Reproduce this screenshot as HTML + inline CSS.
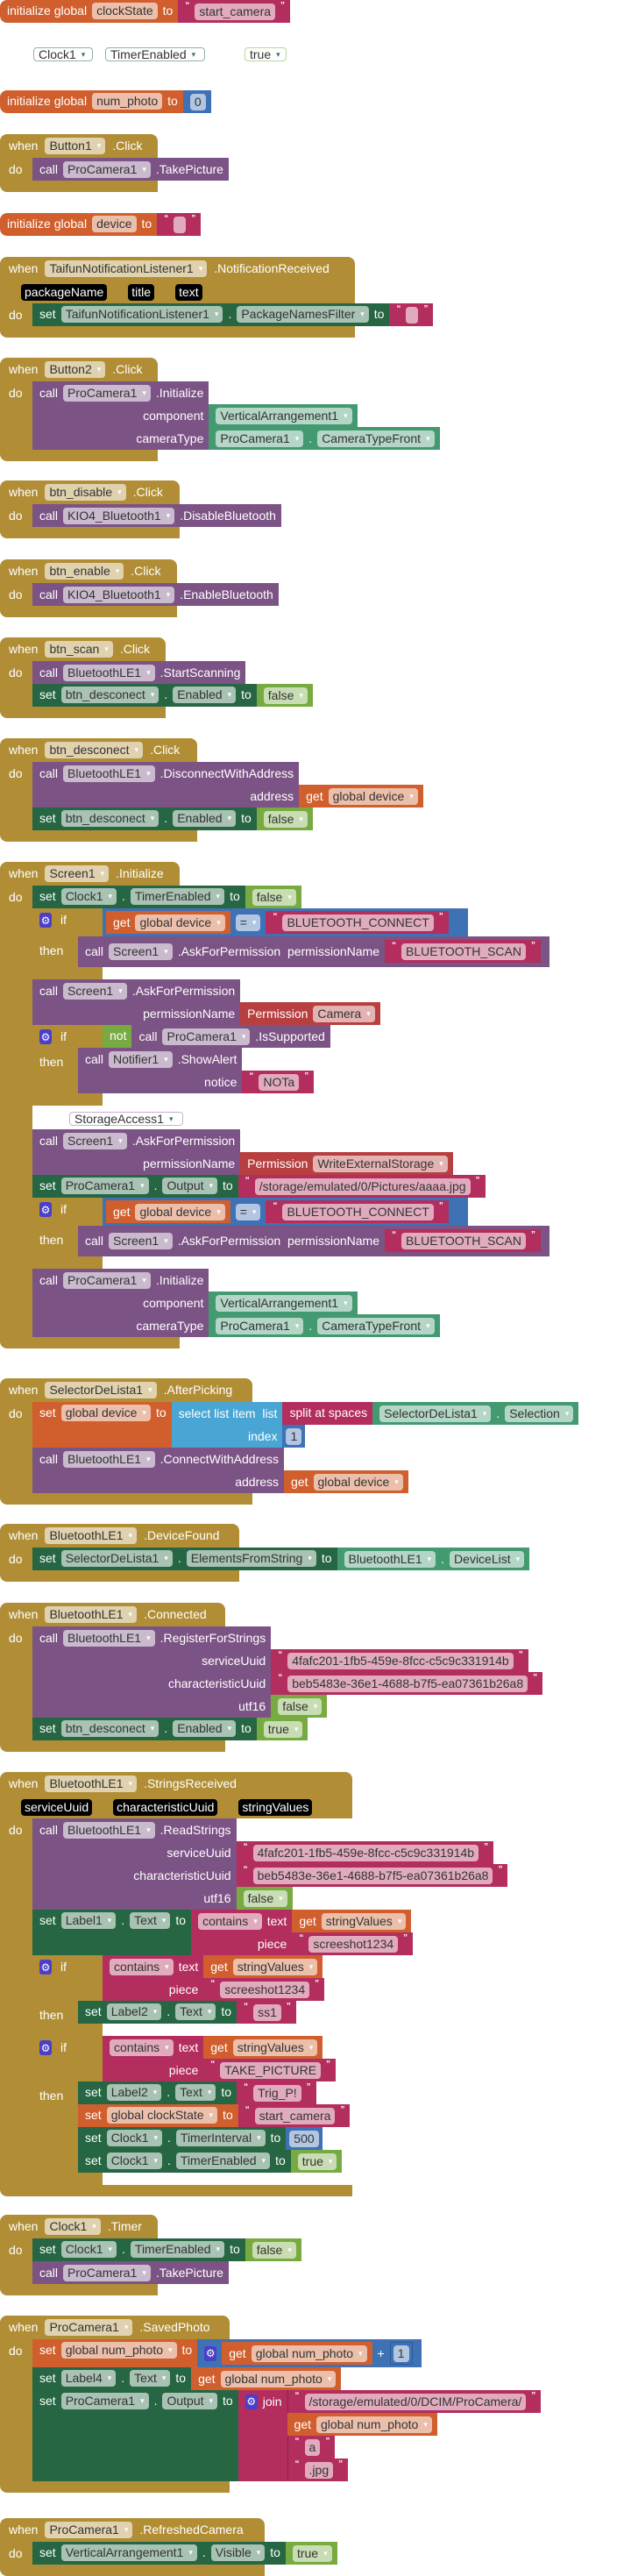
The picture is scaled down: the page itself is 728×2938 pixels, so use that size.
<!DOCTYPE html>
<html><head><meta charset="utf-8">
<style>
body{margin:0;width:728px;height:2937px;position:relative;background:#fff;font:14px "Liberation Sans",Arial,sans-serif;color:#fff;overflow:hidden}
.ab{position:absolute;left:0}
.r{display:flex;align-items:center;min-height:26px;line-height:19px;white-space:nowrap;padding:0 6px 0 8px;gap:6px;box-sizing:border-box}
.p{padding:3px 4px;gap:6px}
.s{display:flex;align-items:flex-start;white-space:nowrap}
.h{align-self:stretch;align-items:flex-start;padding-top:3px}
.e{justify-content:flex-end}
i{font-style:normal}
.d,.n{display:inline-flex;align-items:center;height:19px;padding:0 5px;border-radius:4px;background:rgba(255,255,255,.6);color:#333}
.d::after{content:"▾";font-size:9px;margin-left:6px;color:rgba(255,255,255,.95)}
.q{font-size:10px;align-self:flex-start;margin-top:0;line-height:14px}
.gd{background:#B18E35}.pu{background:#7C5385}.dg{background:#266643}.cg{background:#439970}
.lg{background:#77AB41}.tx{background:#B32D5E}.or{background:#D05F2D}.bl{background:#3F71B5}
.lb{background:#49A6D4}.pm{background:#B83F3F}
.hd{height:27px;border-radius:8px 8px 0 0;padding-left:10px;gap:8px}
.bd{display:flex;align-items:stretch}
.do{width:37px;flex:none;background:#B18E35;padding:4px 0 0 10px;box-sizing:border-box;line-height:18px}
.st{display:flex;flex-direction:column;align-items:flex-start}
.ft{height:13px;background:#B18E35;border-radius:0 0 0 8px}
.g{display:grid;grid-template-columns:auto auto;align-items:stretch}
.g>.v2{justify-self:start}
.ifb{display:flex;flex-direction:column;align-items:flex-start}
.ifr{display:flex;align-items:flex-start}
.ifh{width:80px;flex:none;background:#B18E35;display:flex;align-items:flex-start;padding:5px 0 0 8px;box-sizing:border-box;gap:10px;align-self:stretch}
.thn{width:52px;flex:none;background:#B18E35;padding:8px 0 0 8px;box-sizing:border-box;align-self:stretch}
.ifbot{width:80px;height:14px;background:#B18E35}
.gear{display:inline-flex;width:14px;height:17px;background:#4B3FC9;border-radius:3px;color:#fff;font-size:12px;align-items:center;justify-content:center}
.pk{background:#000;color:#fff;border-radius:4px;padding:0 4px;height:19px;display:inline-flex;align-items:center}
.o{position:absolute;display:inline-flex;align-items:center;height:16px;padding:0 5px;border:1px solid #8FB5A2;border-radius:4px;color:#333;background:#fff;font-size:14px;box-sizing:border-box}
.o::after{content:"▾";font-size:9px;margin-left:6px;color:#3a7a5a}
</style></head><body>

<div class="ab s" style="top:0"><div class="r or h" style="border-radius:8px 0 0 8px">initialize global <i class="n">clockState</i> to</div><div class="r tx"><b class="q">“</b><i class="n">start_camera</i><b class="q">”</b></div></div>

<span class="o" style="left:38px;top:54px;width:68px">Clock1</span>
<span class="o" style="left:120px;top:54px;width:114px">TimerEnabled</span>
<span class="o" style="left:279px;top:54px;width:48px;border-color:#B5D69A">true</span>

<div class="ab s" style="top:103px"><div class="r or h" style="border-radius:8px 0 0 8px">initialize global <i class="n">num_photo</i> to</div><div class="r bl"><i class="n">0</i></div></div>

<div class="ab" style="top:153px">
<div class="r gd hd" style="width:180px">when <i class="d">Button1</i> .Click</div>
<div class="bd"><div class="do">do</div><div class="st">
<div class="r pu">call <i class="d">ProCamera1</i> .TakePicture</div>
</div></div><div class="ft" style="width:180px"></div></div>

<div class="ab s" style="top:243px"><div class="r or h" style="border-radius:8px 0 0 8px">initialize global <i class="n">device</i> to</div><div class="r tx"><b class="q">“</b><i class="n" style="width:4px"></i><b class="q">”</b></div></div>

<div class="ab" style="top:293px">
<div class="r gd hd" style="width:405px">when <i class="d">TaifunNotificationListener1</i> .NotificationReceived</div>
<div class="r gd" style="width:405px;padding-left:24px;gap:24px"><span class="pk">packageName</span><span class="pk">title</span><span class="pk">text</span></div>
<div class="bd"><div class="do">do</div><div class="st">
<div class="s"><div class="r dg h">set <i class="d">TaifunNotificationListener1</i> . <i class="d">PackageNamesFilter</i> to</div><div class="r tx"><b class="q">“</b><i class="n" style="width:4px"></i><b class="q">”</b></div></div>
</div></div><div class="ft" style="width:405px"></div></div>

<div class="ab" style="top:408px">
<div class="r gd hd" style="width:180px">when <i class="d">Button2</i> .Click</div>
<div class="bd"><div class="do">do</div><div class="st">
<div class="g"><div class="r pu">call <i class="d">ProCamera1</i> .Initialize</div><div></div>
<div class="r pu e">component</div><div class="r cg v2"><i class="d">VerticalArrangement1</i></div>
<div class="r pu e">cameraType</div><div class="r cg v2"><i class="d">ProCamera1</i> . <i class="d">CameraTypeFront</i></div></div>
</div></div><div class="ft" style="width:180px"></div></div>

<div class="ab" style="top:548px">
<div class="r gd hd" style="width:205px">when <i class="d">btn_disable</i> .Click</div>
<div class="bd"><div class="do">do</div><div class="st">
<div class="r pu">call <i class="d">KIO4_Bluetooth1</i> .DisableBluetooth</div>
</div></div><div class="ft" style="width:205px"></div></div>

<div class="ab" style="top:638px">
<div class="r gd hd" style="width:202px">when <i class="d">btn_enable</i> .Click</div>
<div class="bd"><div class="do">do</div><div class="st">
<div class="r pu">call <i class="d">KIO4_Bluetooth1</i> .EnableBluetooth</div>
</div></div><div class="ft" style="width:202px"></div></div>

<div class="ab" style="top:727px">
<div class="r gd hd" style="width:189px">when <i class="d">btn_scan</i> .Click</div>
<div class="bd"><div class="do">do</div><div class="st">
<div class="r pu">call <i class="d">BluetoothLE1</i> .StartScanning</div>
<div class="s"><div class="r dg h">set <i class="d">btn_desconect</i> . <i class="d">Enabled</i> to</div><div class="r lg"><i class="d">false</i></div></div>
</div></div><div class="ft" style="width:189px"></div></div>

<div class="ab" style="top:842px">
<div class="r gd hd" style="width:225px">when <i class="d">btn_desconect</i> .Click</div>
<div class="bd"><div class="do">do</div><div class="st">
<div class="g"><div class="r pu">call <i class="d">BluetoothLE1</i> .DisconnectWithAddress</div><div></div>
<div class="r pu e">address</div><div class="r or v2">get <i class="d">global device</i></div></div>
<div class="s"><div class="r dg h">set <i class="d">btn_desconect</i> . <i class="d">Enabled</i> to</div><div class="r lg"><i class="d">false</i></div></div>
</div></div><div class="ft" style="width:225px"></div></div>

<div class="ab" style="top:983px">
<div class="r gd hd" style="width:205px">when <i class="d">Screen1</i> .Initialize</div>
<div class="bd"><div class="do">do</div><div class="st">
<div class="s"><div class="r dg h">set <i class="d">Clock1</i> . <i class="d">TimerEnabled</i> to</div><div class="r lg"><i class="d">false</i></div></div>
<div class="ifb">
 <div class="ifr"><div class="ifh"><span class="gear">⚙</span>if</div>
  <div class="r bl p" style="padding-right:22px"><div class="r or">get <i class="d">global device</i></div><i class="d">=</i><div class="r tx"><b class="q">“</b><i class="n">BLUETOOTH_CONNECT</i><b class="q">”</b></div></div></div>
 <div class="ifr"><div class="thn">then</div><div class="st">
  <div class="s pu" style="padding:4px 0 5px"><div class="r">call <i class="d">Screen1</i> .AskForPermission &nbsp;permissionName</div><div class="r tx" style="margin-right:10px"><b class="q">“</b><i class="n">BLUETOOTH_SCAN</i><b class="q">”</b></div></div>
 </div></div>
 <div class="ifbot"></div>
</div>
<div class="g"><div class="r pu">call <i class="d">Screen1</i> .AskForPermission</div><div></div>
<div class="r pu e">permissionName</div><div class="r pm v2">Permission <i class="d">Camera</i></div></div>
<div class="ifb">
 <div class="ifr"><div class="ifh"><span class="gear">⚙</span>if</div>
  <div class="s"><div class="r lg h">not</div><div class="r pu">call <i class="d">ProCamera1</i> .IsSupported</div></div></div>
 <div class="ifr"><div class="thn">then</div><div class="st">
  <div class="g"><div class="r pu">call <i class="d">Notifier1</i> .ShowAlert</div><div></div>
  <div class="r pu e">notice</div><div class="r tx v2"><b class="q">“</b><i class="n">NOTa</i><b class="q">”</b></div></div>
 </div></div>
 <div class="ifbot"></div>
</div>
<div style="height:27px;position:relative;width:10px"><span class="o" style="left:42px;top:7px;border-color:#C9B0D0;width:130px">StorageAccess1</span></div>
<div class="g"><div class="r pu">call <i class="d">Screen1</i> .AskForPermission</div><div></div>
<div class="r pu e">permissionName</div><div class="r pm v2">Permission <i class="d">WriteExternalStorage</i></div></div>
<div class="s"><div class="r dg h">set <i class="d">ProCamera1</i> . <i class="d">Output</i> to</div><div class="r tx"><b class="q">“</b><i class="n">/storage/emulated/0/Pictures/aaaa.jpg</i><b class="q">”</b></div></div>
<div class="ifb">
 <div class="ifr"><div class="ifh"><span class="gear">⚙</span>if</div>
  <div class="r bl p" style="padding-right:22px"><div class="r or">get <i class="d">global device</i></div><i class="d">=</i><div class="r tx"><b class="q">“</b><i class="n">BLUETOOTH_CONNECT</i><b class="q">”</b></div></div></div>
 <div class="ifr"><div class="thn">then</div><div class="st">
  <div class="s pu" style="padding:4px 0 5px"><div class="r">call <i class="d">Screen1</i> .AskForPermission &nbsp;permissionName</div><div class="r tx" style="margin-right:10px"><b class="q">“</b><i class="n">BLUETOOTH_SCAN</i><b class="q">”</b></div></div>
 </div></div>
 <div class="ifbot"></div>
</div>
<div class="g"><div class="r pu">call <i class="d">ProCamera1</i> .Initialize</div><div></div>
<div class="r pu e">component</div><div class="r cg v2"><i class="d">VerticalArrangement1</i></div>
<div class="r pu e">cameraType</div><div class="r cg v2"><i class="d">ProCamera1</i> . <i class="d">CameraTypeFront</i></div></div>
</div></div><div class="ft" style="width:205px"></div></div>

<div class="ab" style="top:1572px">
<div class="r gd hd" style="width:288px">when <i class="d">SelectorDeLista1</i> .AfterPicking</div>
<div class="bd"><div class="do">do</div><div class="st">
<div class="s"><div class="r or h">set <i class="d">global device</i> to</div>
 <div class="g"><div class="r lb">select list item &nbsp;list</div><div class="s v2"><div class="r tx h">split at spaces</div><div class="r cg"><i class="d">SelectorDeLista1</i> . <i class="d">Selection</i></div></div>
 <div class="r lb e">index</div><div class="r bl v2" style="padding:0 4px"><i class="n">1</i></div></div></div>
<div class="g"><div class="r pu">call <i class="d">BluetoothLE1</i> .ConnectWithAddress</div><div></div>
<div class="r pu e">address</div><div class="r or v2">get <i class="d">global device</i></div></div>
</div></div><div class="ft" style="width:288px"></div></div>

<div class="ab" style="top:1738px">
<div class="r gd hd" style="width:273px">when <i class="d">BluetoothLE1</i> .DeviceFound</div>
<div class="bd"><div class="do">do</div><div class="st">
<div class="s"><div class="r dg h">set <i class="d">SelectorDeLista1</i> . <i class="d">ElementsFromString</i> to</div><div class="r cg"><i class="d">BluetoothLE1</i> . <i class="d">DeviceList</i></div></div>
</div></div><div class="ft" style="width:273px"></div></div>

<div class="ab" style="top:1828px">
<div class="r gd hd" style="width:257px">when <i class="d">BluetoothLE1</i> .Connected</div>
<div class="bd"><div class="do">do</div><div class="st">
<div class="g"><div class="r pu">call <i class="d">BluetoothLE1</i> .RegisterForStrings</div><div></div>
<div class="r pu e">serviceUuid</div><div class="r tx v2"><b class="q">“</b><i class="n">4fafc201-1fb5-459e-8fcc-c5c9c331914b</i><b class="q">”</b></div>
<div class="r pu e">characteristicUuid</div><div class="r tx v2"><b class="q">“</b><i class="n">beb5483e-36e1-4688-b7f5-ea07361b26a8</i><b class="q">”</b></div>
<div class="r pu e">utf16</div><div class="r lg v2"><i class="d">false</i></div></div>
<div class="s"><div class="r dg h">set <i class="d">btn_desconect</i> . <i class="d">Enabled</i> to</div><div class="r lg"><i class="d">true</i></div></div>
</div></div><div class="ft" style="width:257px"></div></div>

<div class="ab" style="top:2021px">
<div class="r gd hd" style="width:402px">when <i class="d">BluetoothLE1</i> .StringsReceived</div>
<div class="r gd" style="width:402px;padding-left:24px;gap:24px"><span class="pk">serviceUuid</span><span class="pk">characteristicUuid</span><span class="pk">stringValues</span></div>
<div class="bd"><div class="do">do</div><div class="st">
<div class="g"><div class="r pu">call <i class="d">BluetoothLE1</i> .ReadStrings</div><div></div>
<div class="r pu e">serviceUuid</div><div class="r tx v2"><b class="q">“</b><i class="n">4fafc201-1fb5-459e-8fcc-c5c9c331914b</i><b class="q">”</b></div>
<div class="r pu e">characteristicUuid</div><div class="r tx v2"><b class="q">“</b><i class="n">beb5483e-36e1-4688-b7f5-ea07361b26a8</i><b class="q">”</b></div>
<div class="r pu e">utf16</div><div class="r lg v2"><i class="d">false</i></div></div>
<div class="s"><div class="r dg h">set <i class="d">Label1</i> . <i class="d">Text</i> to</div>
 <div class="g"><div class="r tx"><i class="d">contains</i> text</div><div class="r or v2">get <i class="d">stringValues</i></div>
 <div class="r tx e">piece</div><div class="r tx v2"><b class="q">“</b><i class="n">screeshot1234</i><b class="q">”</b></div></div></div>
<div class="ifb">
 <div class="ifr"><div class="ifh"><span class="gear">⚙</span>if</div>
  <div class="g"><div class="r tx"><i class="d">contains</i> text</div><div class="r or v2">get <i class="d">stringValues</i></div>
  <div class="r tx e">piece</div><div class="r tx v2"><b class="q">“</b><i class="n">screeshot1234</i><b class="q">”</b></div></div></div>
 <div class="ifr"><div class="thn">then</div><div class="st">
  <div class="s"><div class="r dg h">set <i class="d">Label2</i> . <i class="d">Text</i> to</div><div class="r tx"><b class="q">“</b><i class="n">ss1</i><b class="q">”</b></div></div>
 </div></div>
 <div class="ifbot"></div>
</div>
<div class="ifb">
 <div class="ifr"><div class="ifh"><span class="gear">⚙</span>if</div>
  <div class="g"><div class="r tx"><i class="d">contains</i> text</div><div class="r or v2">get <i class="d">stringValues</i></div>
  <div class="r tx e">piece</div><div class="r tx v2"><b class="q">“</b><i class="n">TAKE_PICTURE</i><b class="q">”</b></div></div></div>
 <div class="ifr"><div class="thn">then</div><div class="st">
  <div class="s"><div class="r dg h">set <i class="d">Label2</i> . <i class="d">Text</i> to</div><div class="r tx"><b class="q">“</b><i class="n">Trig_P!</i><b class="q">”</b></div></div>
  <div class="s"><div class="r or h">set <i class="d">global clockState</i> to</div><div class="r tx"><b class="q">“</b><i class="n">start_camera</i><b class="q">”</b></div></div>
  <div class="s"><div class="r dg h">set <i class="d">Clock1</i> . <i class="d">TimerInterval</i> to</div><div class="r bl" style="padding:0 4px"><i class="n">500</i></div></div>
  <div class="s"><div class="r dg h">set <i class="d">Clock1</i> . <i class="d">TimerEnabled</i> to</div><div class="r lg"><i class="d">true</i></div></div>
 </div></div>
 <div class="ifbot"></div>
</div>
</div></div><div class="ft" style="width:402px"></div></div>

<div class="ab" style="top:2526px">
<div class="r gd hd" style="width:180px">when <i class="d">Clock1</i> .Timer</div>
<div class="bd"><div class="do">do</div><div class="st">
<div class="s"><div class="r dg h">set <i class="d">Clock1</i> . <i class="d">TimerEnabled</i> to</div><div class="r lg"><i class="d">false</i></div></div>
<div class="r pu">call <i class="d">ProCamera1</i> .TakePicture</div>
</div></div><div class="ft" style="width:180px"></div></div>

<div class="ab" style="top:2641px">
<div class="r gd hd" style="width:262px">when <i class="d">ProCamera1</i> .SavedPhoto</div>
<div class="bd"><div class="do">do</div><div class="st">
<div class="s"><div class="r or h">set <i class="d">global num_photo</i> to</div>
 <div class="r bl p" style="padding:3px 10px 3px 8px"><span class="gear">⚙</span><div class="r or">get <i class="d">global num_photo</i></div>+<div class="r bl" style="padding:0 3px;border:1px solid #2d5a96"><i class="n">1</i></div></div></div>
<div class="s"><div class="r dg h">set <i class="d">Label4</i> . <i class="d">Text</i> to</div><div class="r or">get <i class="d">global num_photo</i></div></div>
<div class="s"><div class="r dg h">set <i class="d">ProCamera1</i> . <i class="d">Output</i> to</div>
 <div class="g"><div class="r tx"><span class="gear">⚙</span> join</div><div class="r tx v2" style="border-left:1px solid #8c2049"><b class="q">“</b><i class="n">/storage/emulated/0/DCIM/ProCamera/</i><b class="q">”</b></div>
 <div class="tx"></div><div class="r or v2">get <i class="d">global num_photo</i></div>
 <div class="tx"></div><div class="r tx v2" style="border-left:1px solid #8c2049"><b class="q">“</b><i class="n">a</i><b class="q">”</b></div>
 <div class="tx"></div><div class="r tx v2" style="border-left:1px solid #8c2049"><b class="q">“</b><i class="n">.jpg</i><b class="q">”</b></div></div></div>
</div></div><div class="ft" style="width:262px"></div></div>

<div class="ab" style="top:2872px">
<div class="r gd hd" style="width:302px">when <i class="d">ProCamera1</i> .RefreshedCamera</div>
<div class="bd"><div class="do">do</div><div class="st">
<div class="s"><div class="r dg h">set <i class="d">VerticalArrangement1</i> . <i class="d">Visible</i> to</div><div class="r lg"><i class="d">true</i></div></div>
</div></div><div class="ft" style="width:302px"></div></div>

</body></html>
